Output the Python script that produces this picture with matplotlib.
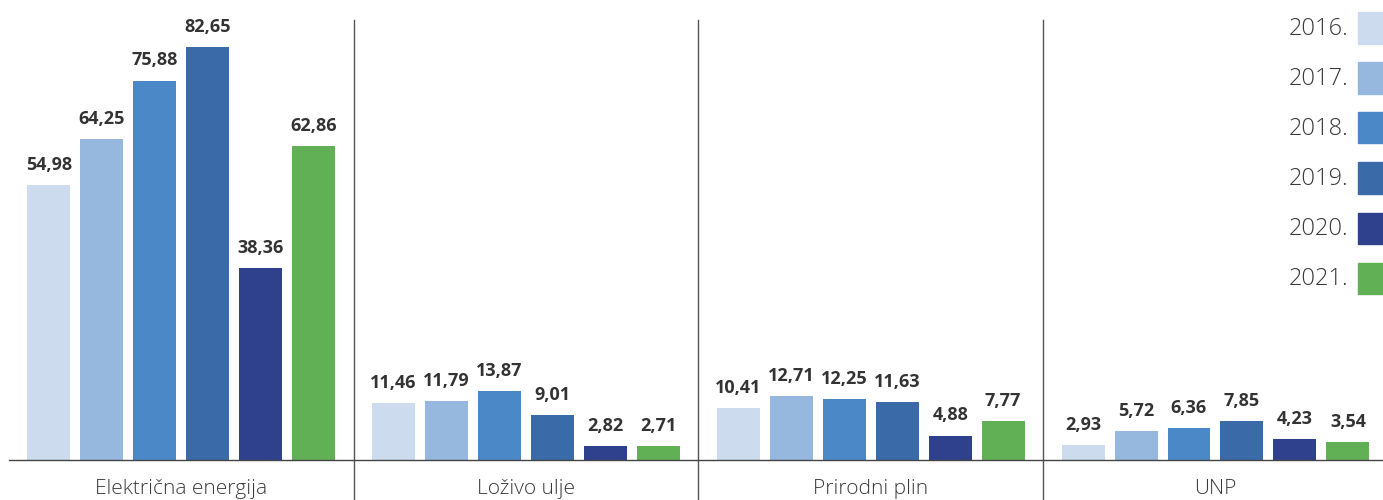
import matplotlib
matplotlib.use("Agg")
import matplotlib.pyplot as plt
import numpy as np

categories = ["Električna energija", "Loživo ulje", "Prirodni plin", "UNP"]
years = ["2016.", "2017.", "2018.", "2019.", "2020.", "2021."]
values = {
    "2016.": [54.98, 11.46, 10.41, 2.93],
    "2017.": [64.25, 11.79, 12.71, 5.72],
    "2018.": [75.88, 13.87, 12.25, 6.36],
    "2019.": [82.65, 9.01, 11.63, 7.85],
    "2020.": [38.36, 2.82, 4.88, 4.23],
    "2021.": [62.86, 2.71, 7.77, 3.54],
}
colors = ["#ccdcee", "#96b8de", "#4a88c8", "#3a6aa8", "#2f418c", "#62b055"]

plt.rcParams["font.family"] = ["Open Sans", "DejaVu Sans"]

fig = plt.figure(figsize=(13.83, 5.0), dpi=100)
ax = fig.add_axes([9 / 1383, 40 / 500, 1 - 9 / 1383, 460 / 500])

x = np.arange(len(categories))
step = 53 / 345
width = 43 / 345
for i, (yr, col) in enumerate(zip(years, colors)):
    pos = x + (i - 2.5) * step
    vals = values[yr]
    ax.bar(pos, vals, width=width, color=col, zorder=2)
    for px, v in zip(pos, vals):
        ax.annotate(f"{v:.2f}".replace(".", ","), (px, v), xytext=(0, 8),
                    textcoords="offset points", ha="center", va="bottom",
                    fontsize=13, fontweight="bold", color="#333333")

ax.set_xlim(-0.5, 3.486)
ax.set_ylim(0, 92)

# group separators
for s in [0.5, 1.5, 2.5]:
    ax.plot([s, s], [-9, 88], color="#555555", lw=1, clip_on=False, zorder=1)

for side in ["top", "right", "left"]:
    ax.spines[side].set_visible(False)
ax.spines["bottom"].set_color("#444444")
ax.spines["bottom"].set_linewidth(1)
ax.set_yticks([])
ax.set_xticks(x)
ax.set_xticklabels(categories, fontsize=15, fontweight="light", color="#3a3a3a")
ax.tick_params(axis="x", length=0, pad=14)

# legend: label on the left, swatch on the right
sq_w, sq_h = 25, 31
for i, (yr, col) in enumerate(zip(years, colors)):
    yc = 28 + 50 * i
    fig.patches.append(plt.Rectangle((1358 / 1383, 1 - (yc + sq_h / 2) / 500),
                                     sq_w / 1383, sq_h / 500,
                                     transform=fig.transFigure, color=col))
    fig.text(1348 / 1383, 1 - (yc + 1) / 500, yr, ha="right", va="center",
             fontsize=17, fontweight="light", color="#3a3a3a")

fig.savefig("out.png", dpi=100)
